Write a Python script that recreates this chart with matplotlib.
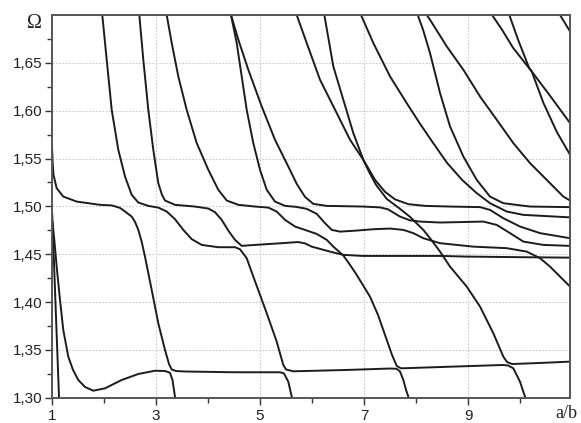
import matplotlib
matplotlib.use("Agg")
import matplotlib.pyplot as plt
from matplotlib.ticker import FixedLocator, FuncFormatter

# dispersion branches (x = a/b, y = Omega)
s1_x = [1.004, 1.069, 1.138]
s1_y = [1.492, 1.396, 1.296]

s2_x = [1.010, 1.044, 1.096, 1.154, 1.217, 1.313, 1.404, 1.506, 1.635, 1.794, 2.019,
        2.340, 2.660, 2.981, 3.173, 3.269, 3.317, 3.365, 3.375]
s2_y = [1.4838, 1.4650, 1.4336, 1.4022, 1.3708, 1.3429, 1.3290, 1.3185, 1.3112, 1.3073, 1.3098,
        1.3185, 1.3248, 1.3282, 1.3279, 1.3261, 1.3185, 1.3010, 1.2976]

a_x = [1.000, 1.015, 1.029, 1.090, 1.217, 1.475, 1.923, 2.148, 2.308, 2.404, 2.533, 2.596,
       2.660, 2.725, 2.788, 2.917, 3.044, 3.173, 3.250, 3.302, 3.385, 3.558, 4.481, 5.385,
       5.462, 5.544, 5.610, 5.621]
a_y = [1.5625, 1.5434, 1.5329, 1.5190, 1.5102, 1.5050, 1.5016, 1.5010, 1.4984, 1.4946, 1.4893, 1.4838,
       1.4754, 1.4629, 1.4475, 1.4127, 1.3778, 1.3499, 1.3352, 1.3295, 1.3279, 1.3274, 1.3266, 1.3266,
       1.3253, 1.3167, 1.3010, 1.2976]

t1_x = [1.967, 2.052, 2.148, 2.275, 2.404, 2.533, 2.660, 2.852, 3.044, 3.206, 3.365, 3.525,
        3.687, 3.879, 4.198, 4.519, 4.615, 4.744, 4.871, 5.000, 5.129, 5.321, 5.404, 5.448,
        5.500, 5.640, 6.667, 7.500, 7.629, 7.692, 7.756, 7.808, 7.852, 7.862]
t1_y = [1.7000, 1.6532, 1.6009, 1.5591, 1.5312, 1.5120, 1.5040, 1.5005, 1.4987, 1.4946, 1.4866, 1.4754,
        1.4657, 1.4597, 1.4573, 1.4573, 1.4552, 1.4458, 1.4266, 1.4074, 1.3883, 1.3586, 1.3426, 1.3342,
        1.3295, 1.3276, 1.3290, 1.3305, 1.3302, 1.3274, 1.3185, 1.3081, 1.3010, 1.2976]

t2_x = [2.679, 2.756, 2.852, 2.948, 3.044, 3.115, 3.173, 3.365, 3.750, 4.006, 4.135, 4.263,
        4.390, 4.519, 4.648, 4.904, 5.417, 5.731, 5.865, 5.994, 6.346, 6.602, 6.975, 8.462,
        8.975, 9.967, 10.962]
t2_y = [1.7000, 1.6532, 1.6009, 1.5591, 1.5243, 1.5120, 1.5061, 1.5016, 1.4998, 1.4977, 1.4939, 1.4859,
        1.4747, 1.4650, 1.4587, 1.4597, 1.4615, 1.4627, 1.4613, 1.4579, 1.4527, 1.4493, 1.4482, 1.4482,
        1.4475, 1.4469, 1.4464]

t3_x = [3.206, 3.302, 3.429, 3.590, 3.783, 4.006, 4.198, 4.360, 4.583, 4.904, 5.160, 5.321,
        5.481, 5.673, 5.865, 6.090, 6.283, 6.410, 6.602, 6.731, 6.860, 7.115, 7.269, 7.437,
        7.538, 7.629, 7.712, 8.654, 9.673, 9.769, 9.871, 10.000, 10.096, 10.108]
t3_y = [1.7000, 1.6707, 1.6358, 1.6009, 1.5661, 1.5382, 1.5173, 1.5061, 1.5016, 1.4998, 1.4987, 1.4946,
        1.4859, 1.4789, 1.4754, 1.4712, 1.4650, 1.4579, 1.4487, 1.4388, 1.4283, 1.4056, 1.3865, 1.3604,
        1.3447, 1.3332, 1.3307, 1.3324, 1.3342, 1.3337, 1.3307, 1.3167, 1.3010, 1.2976]

t4a_x = [4.442, 4.552, 4.648, 4.744, 4.871, 5.000, 5.129, 5.288, 5.481, 5.692, 5.898, 6.090,
         6.250, 6.379, 6.538, 6.860, 7.179, 7.500, 7.756, 7.948, 8.140, 8.462, 9.102, 9.744,
         10.129, 10.385, 10.577, 10.833, 10.962]
t4a_y = [1.7000, 1.6707, 1.6358, 1.6009, 1.5661, 1.5382, 1.5173, 1.5050, 1.5005, 1.4995, 1.4974, 1.4922,
         1.4824, 1.4754, 1.4736, 1.4747, 1.4761, 1.4768, 1.4754, 1.4720, 1.4667, 1.4615, 1.4579, 1.4563,
         1.4527, 1.4458, 1.4370, 1.4231, 1.4161]

t4b_x = [4.442, 4.583, 4.775, 5.033, 5.288, 5.544, 5.706, 5.865, 6.025, 6.283, 6.987, 7.308,
         7.462, 7.692, 7.885, 8.077, 8.462, 9.294, 9.552, 9.808, 10.063, 10.448, 10.962]
t4b_y = [1.7000, 1.6742, 1.6428, 1.6044, 1.5696, 1.5416, 1.5235, 1.5099, 1.5026, 1.5005, 1.4998, 1.4989,
         1.4969, 1.4893, 1.4854, 1.4841, 1.4831, 1.4841, 1.4806, 1.4720, 1.4632, 1.4597, 1.4587]

t5_x = [5.706, 5.898, 6.154, 6.475, 6.731, 6.987, 7.212, 7.404, 7.596, 7.852, 8.173, 8.654,
        9.231, 9.423, 9.679, 10.000, 10.385, 10.962]
t5_y = [1.7000, 1.6707, 1.6323, 1.5975, 1.5696, 1.5486, 1.5277, 1.5152, 1.5073, 1.5023, 1.5005, 1.4998,
        1.4992, 1.4963, 1.4876, 1.4789, 1.4720, 1.4667]

t6_x = [6.237, 6.410, 6.602, 6.794, 6.987, 7.096, 7.231, 7.437, 7.692, 7.885, 8.140, 8.269,
        8.462, 8.654, 8.975, 9.231, 9.487, 9.679, 9.750, 9.846, 10.385, 10.962]
t6_y = [1.7000, 1.6462, 1.6114, 1.5766, 1.5486, 1.5361, 1.5225, 1.5078, 1.4974, 1.4890, 1.4754, 1.4667,
        1.4527, 1.4370, 1.4161, 1.3952, 1.3673, 1.3429, 1.3373, 1.3352, 1.3363, 1.3377]

t7_x = [6.942, 7.179, 7.500, 7.821, 8.077, 8.327, 8.596, 8.885, 9.167, 9.423, 9.744, 10.063, 10.962]
t7_y = [1.7000, 1.6707, 1.6358, 1.6079, 1.5863, 1.5664, 1.5455, 1.5277, 1.5138, 1.5033, 1.4946, 1.4911, 1.4885]

t8_x = [8.033, 8.135, 8.269, 8.462, 8.654, 8.910, 9.167, 9.423, 9.679, 10.192, 10.962]
t8_y = [1.7000, 1.6846, 1.6602, 1.6184, 1.5835, 1.5521, 1.5277, 1.5102, 1.5033, 1.4998, 1.4992]

t9_x = [8.206, 8.269, 8.590, 8.910, 9.231, 9.552, 9.871, 10.192, 10.513, 10.833, 10.962]
t9_y = [1.7000, 1.6951, 1.6672, 1.6428, 1.6148, 1.5905, 1.5661, 1.5452, 1.5277, 1.5102, 1.5061]

t10_x = [9.462, 9.654, 9.865, 10.225, 10.577, 10.962]
t10_y = [1.7000, 1.6846, 1.6658, 1.6410, 1.6156, 1.5870]

t11_x = [9.794, 9.962, 10.173, 10.225, 10.448, 10.706, 10.962]
t11_y = [1.7000, 1.6742, 1.6449, 1.6410, 1.6083, 1.5779, 1.5539]

t12_x = [10.769, 10.962]
t12_y = [1.7000, 1.6828]

curves = [(s1_x, s1_y), (s2_x, s2_y), (a_x, a_y), (t1_x, t1_y), (t2_x, t2_y), (t3_x, t3_y),
          (t4a_x, t4a_y), (t4b_x, t4b_y), (t5_x, t5_y), (t6_x, t6_y), (t7_x, t7_y),
          (t8_x, t8_y), (t9_x, t9_y), (t10_x, t10_y), (t11_x, t11_y), (t12_x, t12_y)]

x_major = [1, 3, 5, 7, 9]
x_minor = [2, 4, 6, 8, 10]
y_major = [1.30, 1.35, 1.40, 1.45, 1.50, 1.55, 1.60, 1.65]
y_minor = [1.325, 1.375, 1.425, 1.475, 1.525, 1.575, 1.625, 1.675]

fig = plt.figure(figsize=(5.81, 4.23), dpi=100)
ax = fig.add_axes([0.0895, 0.0598, 0.8915, 0.9047])

for xs, ys in curves:
    ax.plot(xs, ys, color="#1c1c1c", lw=1.4, solid_joinstyle="round")

ax.set_xlim(1, 10.96)
ax.set_ylim(1.30, 1.70)

ax.xaxis.set_major_locator(FixedLocator(x_major))
ax.xaxis.set_minor_locator(FixedLocator(x_minor))
ax.yaxis.set_major_locator(FixedLocator(y_major))
ax.yaxis.set_minor_locator(FixedLocator(y_minor))
ax.yaxis.set_major_formatter(FuncFormatter(lambda v, p: ("%.2f" % v).replace(".", ",")))

for v in x_major[1:]:
    ax.axvline(v, color="#c9c9c9", lw=0.8, ls=(0, (1.5, 1.5)), zorder=0)
for v in y_major[1:]:
    ax.axhline(v, color="#c9c9c9", lw=0.8, ls=(0, (1.5, 1.5)), zorder=0)

ax.tick_params(which="both", direction="out", color="#333333", top=False, right=False)
ax.tick_params(which="major", length=5, width=1.0)
ax.tick_params(which="minor", length=3.5, width=1.0)
ax.tick_params(axis="y", which="major", pad=1.5)
ax.tick_params(axis="x", which="major", pad=3)
for lab in ax.get_xticklabels() + ax.get_yticklabels():
    lab.set_fontfamily("Liberation Sans")
    lab.set_fontsize(11)
    lab.set_color("#222222")

for sp in ax.spines.values():
    sp.set_color("#555555")
    sp.set_linewidth(1.4)

ax.text(-0.033, 1.003, "\u03a9", transform=ax.transAxes, ha="center", va="top",
        fontfamily="Liberation Serif", fontsize=14.5, color="#222222")
ax.text(0.993, -0.02, "a/b", transform=ax.transAxes, ha="center", va="top",
        fontfamily="Liberation Serif", fontsize=13, color="#222222")

fig.savefig("out.png", dpi=100)
